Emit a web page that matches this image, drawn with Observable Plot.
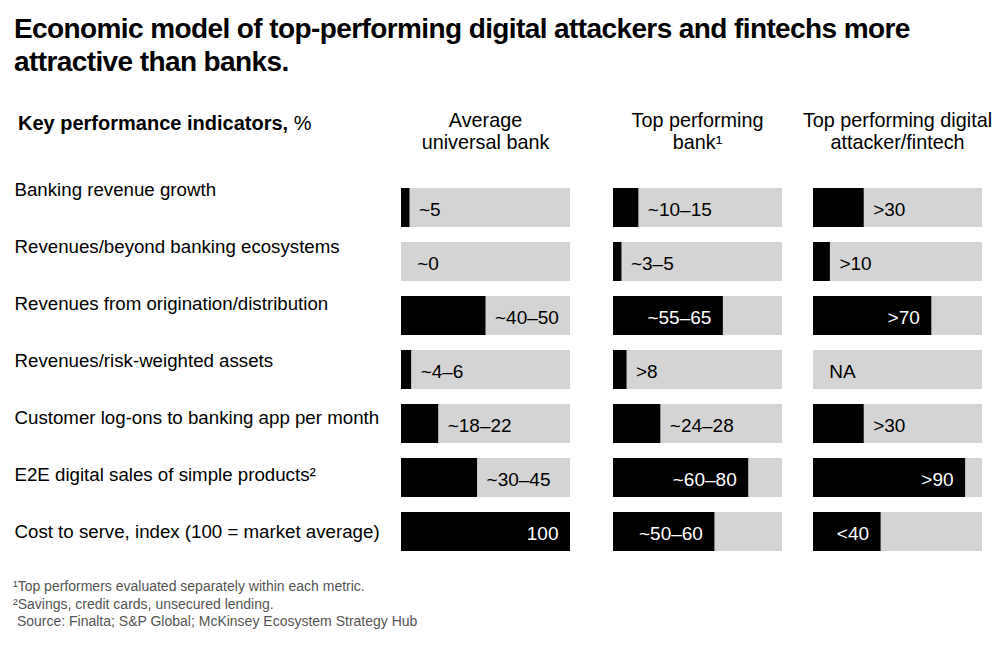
<!DOCTYPE html>
<html><head><meta charset="utf-8">
<script src="https://cdn.jsdelivr.net/npm/d3@7"></script>
<script src="https://cdn.jsdelivr.net/npm/@observablehq/plot@0.6"></script>
<style>
body{margin:0;background:#fff;}
#root{position:relative;width:1000px;height:646px;font-family:"Liberation Sans",Arial,sans-serif;color:#000;overflow:hidden}
.abs{position:absolute}
.title{left:14px;top:12px;width:960px;font-family:"Liberation Sans",Arial,sans-serif;font-weight:bold;font-size:28px;line-height:33px;letter-spacing:-0.6px}
.kpi{left:18px;top:111px;font-size:20px;line-height:24px;white-space:nowrap}
.kpi b{font-weight:bold}
.colhead{top:109px;width:240px;text-align:center;font-size:19.8px;line-height:22px}
.foot{left:13px;top:578px;font-size:14px;line-height:17.5px;color:#555}
</style></head>
<body><div id="root"></div>
<script>
const indicators = [
  "Banking revenue growth",
  "Revenues/beyond banking ecosystems",
  "Revenues from origination/distribution",
  "Revenues/risk-weighted assets",
  "Customer log-ons to banking app per month",
  "E2E digital sales of simple products²",
  "Cost to serve, index (100 = market average)"
];
const columns = ["Average<br>universal bank", "Top performing<br>bank¹", "Top performing digital<br>attacker/fintech"];
const avgValues = [5, 0, 50, 6, 22, 45, 100];
const avgLabels = ["~5", "~0", "~40–50", "~4–6", "~18–22", "~30–45", "100"];
const topBankValues = [15, 5, 65, 8, 28, 80, 60];
const topBankLabels = ["~10–15", "~3–5", "~55–65", ">8", "~24–28", "~60–80", "~50–60"];
const attackerValues = [30, 10, 70, null, 30, 90, 40];
const attackerLabels = [">30", ">10", ">70", "NA", ">30", ">90", "<40"];
const title = "Economic model of top-performing digital attackers and fintechs more attractive than banks.";
const footnotes = [
  "¹Top performers evaluated separately within each metric.",
  "²Savings, credit cards, unsecured lending.",
  "&nbsp;Source: Finalta; S&amp;P Global; McKinsey Ecosystem Strategy Hub"
];

const root = document.getElementById("root");
function add(cls, html, style) {
  const d = document.createElement("div");
  d.className = "abs " + cls;
  d.innerHTML = html;
  if (style) Object.assign(d.style, style);
  root.appendChild(d);
  return d;
}
add("title", title);
add("kpi", "<b>Key performance indicators,</b> %");
const colLeft = [401, 613, 813];
const colW = 169;
columns.forEach((c, i) => add("colhead", c, {left: (colLeft[i] + colW / 2 - 120) + "px"}));

const labelFont = {fontFamily: '"Liberation Sans", Arial, sans-serif', fontSize: "18.7px", background: "transparent"};
const valueFont = {fontFamily: '"Liberation Sans", Arial, sans-serif', fontSize: "19px", background: "transparent"};

const labelPlot = Plot.plot({
  width: 401, height: 402, marginLeft: 14, marginRight: 0, marginTop: 0, marginBottom: 0,
  y: {type: "point", domain: indicators, padding: 0.5, axis: null},
  style: labelFont,
  marks: [
    Plot.text(indicators, {y: d => d, text: d => d, frameAnchor: "left", textAnchor: "start", fill: "#000"})
  ]
});
labelPlot.style.position = "absolute";
labelPlot.style.left = "0px";
labelPlot.style.top = "160px";
root.appendChild(labelPlot);

function columnPlot(values, labels) {
  const rows = indicators.map((k, i) => ({k, v: values[i], label: labels[i]}));
  const px = v => v / 100 * colW;
  const inside = d => d.v != null && px(d.v) > d.label.length * 10.5 + 25;
  return Plot.plot({
    width: colW, height: 396, margin: 0,
    x: {domain: [0, 100], axis: null},
    y: {domain: indicators, padding: 0.28, axis: null},
    style: valueFont,
    marks: [
      Plot.barX(rows, {y: "k", x1: d => 0, x2: d => 100, fill: "#d4d4d4"}),
      Plot.barX(rows.filter(d => d.v), {y: "k", x1: d => 0, x2: "v", fill: "#000"}),
      Plot.text(rows.filter(d => !inside(d)), {y: "k", x: d => Math.max(d.v ?? 0, 4), text: "label", textAnchor: "start", dx: 9, dy: 2, fill: "#000"}),
      Plot.text(rows.filter(inside), {y: "k", x: "v", text: "label", textAnchor: "end", dx: -12, dy: 2, fill: "#fff"})
    ]
  });
}
[[avgValues, avgLabels], [topBankValues, topBankLabels], [attackerValues, attackerLabels]].forEach(([v, l], i) => {
  const p = columnPlot(v, l);
  p.style.position = "absolute";
  p.style.left = colLeft[i] + "px";
  p.style.top = "171px";
  root.appendChild(p);
});

add("foot", footnotes.join("<br>"));
</script>
</body></html>
